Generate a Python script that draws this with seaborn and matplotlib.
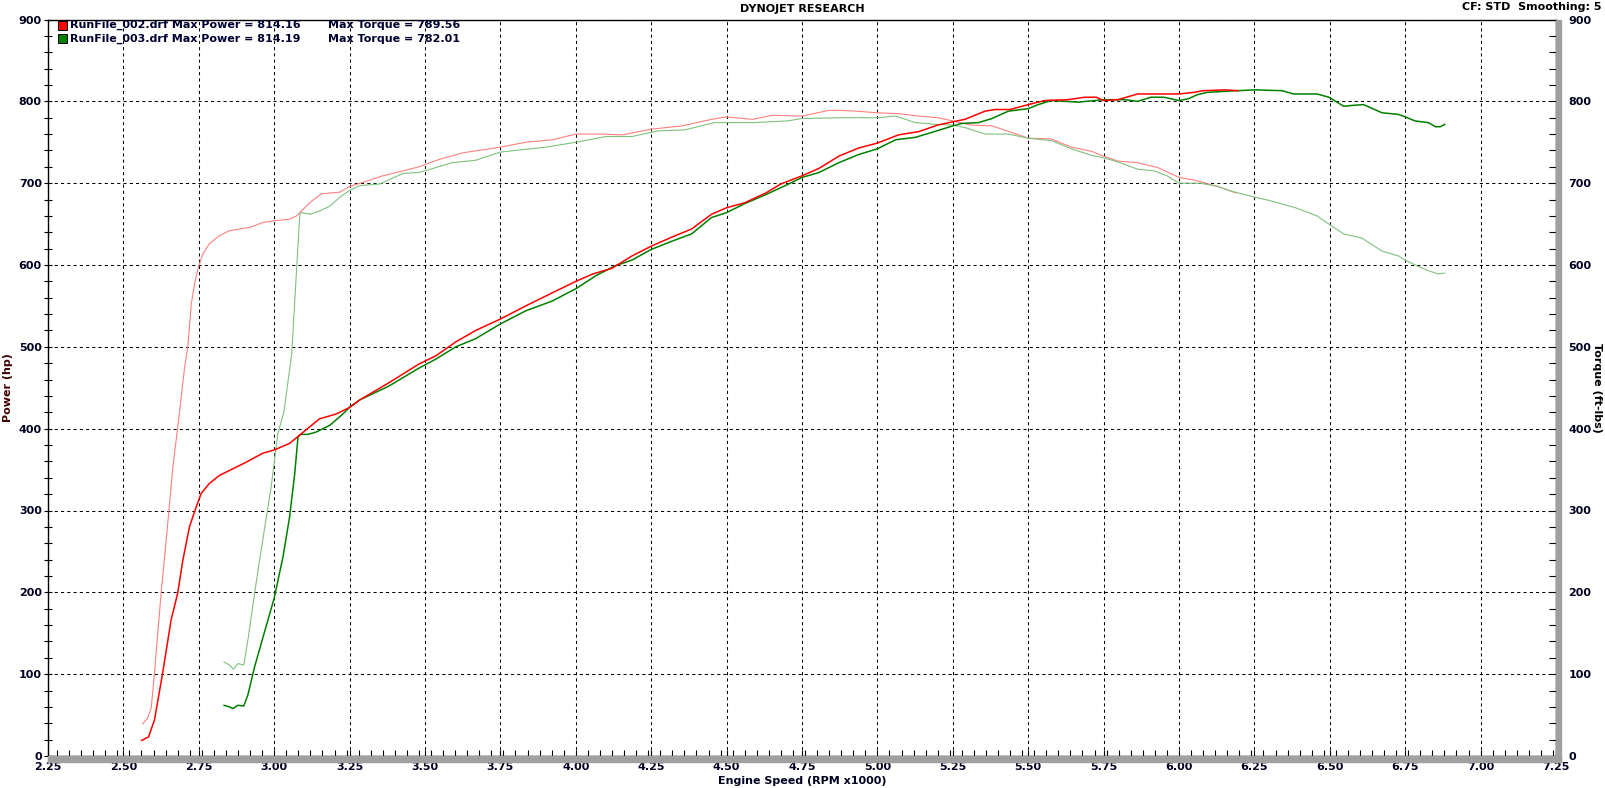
import numpy as np
import pandas as pd
import matplotlib
matplotlib.use('Agg')
import matplotlib.pyplot as plt
from matplotlib.patches import Rectangle
from matplotlib.ticker import MultipleLocator
import seaborn as sns

# Run 002 - power (hp)
rpm_hp_002 = [2.560, 2.566, 2.575, 2.583, 2.603, 2.630, 2.658, 2.680, 2.697, 2.719, 2.741, 2.758,
              2.785, 2.819, 2.863, 2.907, 2.962, 3.000, 3.051, 3.084, 3.117, 3.150, 3.206, 3.250,
              3.283, 3.380, 3.480, 3.536, 3.602, 3.668, 3.750, 3.834, 3.922, 4.000, 4.056, 4.120,
              4.186, 4.250, 4.318, 4.384, 4.450, 4.500, 4.560, 4.630, 4.680, 4.750, 4.806, 4.872,
              4.938, 5.000, 5.070, 5.137, 5.200, 5.250, 5.290, 5.357, 5.390, 5.440, 5.500, 5.555,
              5.632, 5.687, 5.726, 5.750, 5.797, 5.863, 5.907, 6.000, 6.050, 6.080, 6.150, 6.196]
hp_002 = [19, 20, 22, 23, 44, 101, 166, 199, 239, 280, 304, 321,
          333, 343, 351, 359, 370, 374, 382, 392, 402, 412, 418, 426,
          435, 456, 479, 489, 506, 520, 534, 550, 566, 580, 589, 596,
          611, 623, 634, 644, 662, 670, 676, 688, 699, 709, 718, 733,
          743, 749, 759, 763, 771, 775, 778, 788, 790, 790, 796, 801,
          802, 805, 805, 801, 802, 809, 809, 809, 811, 813, 814, 813]

# Run 002 - torque (ft-lbs)
rpm_tq_002 = [2.564, 2.570, 2.580, 2.592, 2.603, 2.625, 2.642, 2.664, 2.686, 2.703, 2.714, 2.725,
              2.736, 2.750, 2.763, 2.785, 2.819, 2.852, 2.919, 2.963, 3.000, 3.051, 3.074, 3.096,
              3.124, 3.157, 3.217, 3.250, 3.294, 3.360, 3.405, 3.480, 3.547, 3.624, 3.750, 3.834,
              3.922, 4.000, 4.078, 4.155, 4.250, 4.352, 4.450, 4.500, 4.586, 4.652, 4.750, 4.840,
              4.872, 4.930, 5.000, 5.070, 5.137, 5.200, 5.250, 5.310, 5.380, 5.445, 5.500, 5.577,
              5.643, 5.710, 5.750, 5.797, 5.863, 5.930, 6.000, 6.060, 6.127, 6.190]
tq_002 = [39, 42, 46, 58, 101, 199, 264, 353, 420, 475, 502, 552,
          577, 599, 613, 626, 636, 642, 646, 652, 654, 656, 660, 668,
          678, 687, 689, 696, 701, 709, 713, 720, 729, 737, 744, 750,
          753, 760, 760, 759, 766, 770, 778, 781, 778, 783, 782, 789,
          789, 788, 786, 785, 782, 780, 776, 771, 770, 762, 755, 754,
          744, 739, 733, 727, 725, 719, 707, 703, 696, 688]

# Run 003 - power (hp)
rpm_hp_003 = [2.833, 2.852, 2.863, 2.880, 2.899, 2.913, 2.935, 2.962, 3.000, 3.029, 3.051, 3.068,
              3.079, 3.087, 3.112, 3.140, 3.184, 3.228, 3.250, 3.283, 3.380, 3.480, 3.536, 3.602,
              3.668, 3.750, 3.834, 3.922, 4.000, 4.067, 4.130, 4.186, 4.250, 4.318, 4.384, 4.450,
              4.500, 4.560, 4.630, 4.700, 4.750, 4.806, 4.872, 4.938, 5.000, 5.060, 5.126, 5.180,
              5.250, 5.280, 5.335, 5.380, 5.434, 5.500, 5.533, 5.577, 5.665, 5.750, 5.820, 5.863,
              5.907, 5.950, 6.000, 6.030, 6.060, 6.094, 6.190, 6.254, 6.342, 6.380, 6.458, 6.497,
              6.546, 6.574, 6.612, 6.673, 6.728, 6.750, 6.783, 6.827, 6.850, 6.866, 6.882]
hp_003 = [62, 60, 58, 62, 61, 75, 109, 144, 193, 243, 292, 345,
          390, 393, 393, 396, 404, 418, 426, 435, 452, 474, 485, 500,
          510, 528, 544, 556, 571, 587, 599, 606, 619, 629, 638, 658,
          664, 675, 686, 698, 707, 713, 725, 735, 742, 753, 756, 762,
          770, 773, 774, 779, 788, 791, 796, 801, 799, 802, 802, 800,
          805, 805, 801, 803, 808, 811, 813, 814, 813, 809, 809, 805,
          794, 795, 796, 786, 784, 781, 776, 774, 769, 769, 772]

# Run 003 - torque (ft-lbs)
rpm_tq_003 = [2.833, 2.852, 2.865, 2.880, 2.899, 2.913, 2.935, 2.962, 2.990, 3.012, 3.032, 3.058,
              3.074, 3.085, 3.090, 3.118, 3.151, 3.185, 3.218, 3.250, 3.283, 3.350, 3.427, 3.480,
              3.590, 3.668, 3.750, 3.900, 4.000, 4.100, 4.186, 4.275, 4.360, 4.460, 4.586, 4.700,
              4.750, 4.895, 5.000, 5.060, 5.126, 5.190, 5.250, 5.290, 5.357, 5.434, 5.500, 5.577,
              5.643, 5.710, 5.750, 5.797, 5.863, 5.918, 5.960, 6.000, 6.070, 6.130, 6.166, 6.250,
              6.298, 6.386, 6.458, 6.497, 6.546, 6.606, 6.673, 6.728, 6.750, 6.783, 6.827, 6.860,
              6.882]
tq_003 = [115, 111, 106, 113, 111, 142, 199, 264, 329, 394, 420, 491,
          593, 662, 664, 662, 666, 672, 683, 691, 697, 699, 712, 713,
          725, 728, 738, 744, 750, 757, 757, 764, 765, 774, 774, 776,
          779, 780, 780, 782, 774, 772, 771, 768, 760, 760, 755, 752,
          742, 734, 731, 726, 717, 715, 709, 700, 700, 696, 691, 683,
          679, 670, 660, 650, 638, 633, 617, 611, 606, 600, 593, 589,
          590]

legend_rows = [
    ('RunFile_002.drf Max Power = 814.16', 'Max Torque = 789.56', '#ff0000'),
    ('RunFile_003.drf Max Power = 814.19', 'Max Torque = 782.01', '#008000'),
]

sns.set_style('white')
plt.rcParams['font.family'] = ['DejaVu Sans']
plt.rcParams['font.weight'] = 'bold'

W, H = 1605, 788
fig = plt.figure(figsize=(W / 100, H / 100), dpi=100)
x0, x1, y0, y1 = 48, 1556, 19.5, 756
ax = fig.add_axes([x0 / W, 1 - y1 / H, (x1 - x0) / W, (y1 - y0) / H])

# shadow bands (bottom + right)
fig.patches.append(Rectangle((x0 / W, 1 - (y1 + 6) / H), (x1 + 5 - x0) / W, 6 / H,
                             transform=fig.transFigure, color='#a0a0a0', zorder=0))
fig.patches.append(Rectangle((x1 / W, 1 - (y1 + 6) / H), 5 / W, (y1 + 6 - y0) / H,
                             transform=fig.transFigure, color='#a0a0a0', zorder=0))

series = [
    (rpm_tq_002, tq_002, '#ff8080', 0.8),
    (rpm_tq_003, tq_003, '#80c080', 0.8),
    (rpm_hp_003, hp_003, '#008000', 1.1),
    (rpm_hp_002, hp_002, '#ff0000', 1.1),
]
for xs, ys, col, lw in series:
    df = pd.DataFrame({'rpm': xs, 'val': ys})
    sns.lineplot(data=df, x='rpm', y='val', ax=ax, color=col, linewidth=lw,
                 estimator=None, sort=False)

ax.set_xlim(2.25, 7.25)
ax.set_ylim(0, 900)
ax.set_xticks(np.arange(2.25, 7.26, 0.25))
ax.set_xticklabels([f'{v:.2f}' for v in np.arange(2.25, 7.26, 0.25)])
ax.xaxis.set_minor_locator(MultipleLocator(0.04))
ax.set_yticks(np.arange(0, 901, 100))
ax.yaxis.set_minor_locator(MultipleLocator(20))
ax.grid(True, which='major', color='black', linestyle=(0, (3, 3)), linewidth=0.75)

tick_col = '#000020'
ax.tick_params(axis='x', which='both', direction='in', length=4, width=0.8,
               colors='black', labelcolor=tick_col, labelsize=8, pad=4, bottom=True)
ax.tick_params(axis='y', which='both', direction='inout', length=6, width=0.8,
               colors='black', labelcolor=tick_col, labelsize=8, pad=1.5, left=True)
for lab in ax.get_xticklabels() + ax.get_yticklabels():
    lab.set_fontweight('bold')

for s in ['left', 'top', 'bottom']:
    ax.spines[s].set_color('black')
    ax.spines[s].set_linewidth(1.0)
ax.spines['right'].set_visible(False)

ax.set_xlabel('Engine Speed (RPM x1000)', fontsize=8, fontweight='bold', labelpad=3, color=tick_col)
ax.set_ylabel('')

ax2 = ax.twinx()
ax2.set_ylim(0, 900)
ax2.set_yticks(np.arange(0, 901, 100))
ax2.yaxis.set_minor_locator(MultipleLocator(20))
ax2.tick_params(axis='y', which='both', direction='in', length=5, width=0.8,
                colors='black', labelcolor=tick_col, labelsize=8, pad=9)
for lab in ax2.get_yticklabels():
    lab.set_fontweight('bold')
for s in ['left', 'top', 'bottom']:
    ax2.spines[s].set_visible(False)
ax2.spines['right'].set_color('black')
ax2.spines['right'].set_linewidth(1.0)

# axis titles
fig.text(8 / W, 1 - 388 / H, 'Power (hp)', rotation=90, ha='center', va='center',
         fontsize=8, fontweight='bold', color='#400000')
fig.text(1597 / W, 1 - 388 / H, 'Torque (ft-lbs)', rotation=270, ha='center', va='center',
         fontsize=8, fontweight='bold', color='black')

# header texts
fig.text(802 / W, 1 - 9 / H, 'DYNOJET RESEARCH', ha='center', va='center',
         fontsize=8, fontweight='bold', color='black')
fig.text(1602 / W, 1 - 6.5 / H, 'CF: STD  Smoothing: 5', ha='right', va='center',
         fontsize=8, fontweight='bold', color='black')

# run legend
for i, (left_txt, right_txt, col) in enumerate(legend_rows):
    yc = 25 + i * 13.5
    fig.patches.append(Rectangle((58 / W, 1 - (yc + 4.5) / H), 9 / W, 9 / H,
                                 transform=fig.transFigure, facecolor=col,
                                 edgecolor='black', linewidth=0.7, zorder=5))
    fig.text(70 / W, 1 - yc / H, left_txt, ha='left', va='center', fontsize=8,
             fontweight='bold', color='#000030')
    fig.text(328 / W, 1 - yc / H, right_txt, ha='left', va='center', fontsize=8,
             fontweight='bold', color='#000030')

fig.savefig('out.png', dpi=100, facecolor='white')
